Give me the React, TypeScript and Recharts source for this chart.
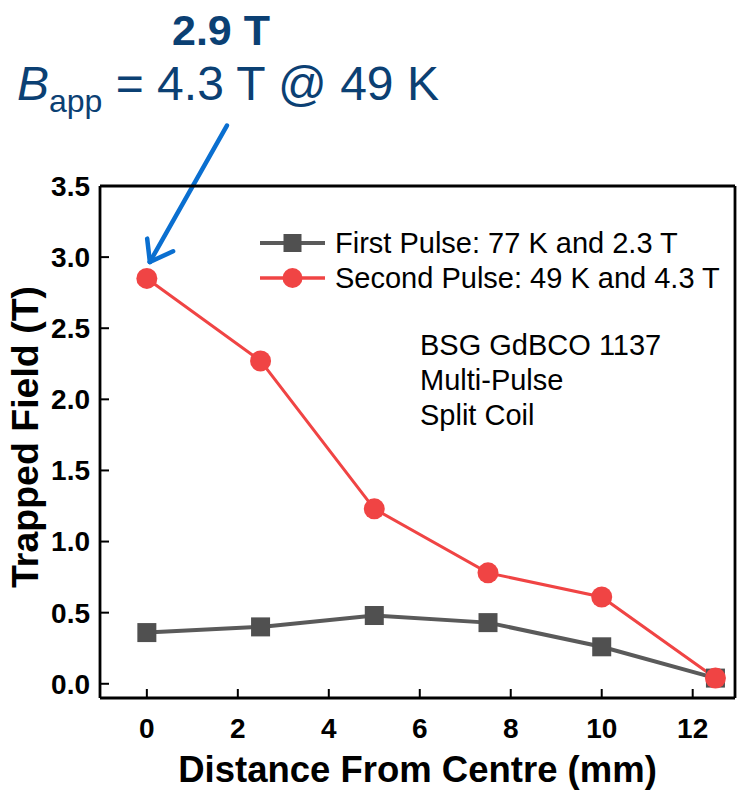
import React from 'react';
import { LineChart, Line, XAxis, YAxis, Legend, ReferenceLine, Label } from 'recharts';

const distance = [0, 2.5, 5, 7.5, 10, 12.5];
const firstPulse = [0.36, 0.4, 0.48, 0.43, 0.26, 0.04];
const secondPulse = [2.85, 2.27, 1.23, 0.78, 0.61, 0.04];

const seriesNames = ['First Pulse: 77 K and 2.3 T', 'Second Pulse: 49 K and 4.3 T'];

const xMajorTicks = [0, 2, 4, 6, 8, 10, 12];
const xMinorTicks = [1, 3, 5, 7, 9, 11];
const yMajorTicks = [0, 0.5, 1, 1.5, 2, 2.5, 3, 3.5];
const yMinorTicks = [0.25, 0.75, 1.25, 1.75, 2.25, 2.75, 3.25];

const xDomain = [-1.03, 12.93];
const yDomain = [-0.1, 3.5];

// annotation arrow in data coordinates
const arrowTail = { x: 1.76, y: 3.925 };
const arrowTip = { x: 0.066, y: 2.966 };
const arrowWingA = { x: 0.007, y: 3.13 };
const arrowWingB = { x: 0.577, y: 3.041 };

const data = distance.map((d, i) => ({ d, first: firstPulse[i], second: secondPulse[i] }));

const FONT = '"Liberation Sans", Arial, sans-serif';
const GRAY = '#505050';
const GRAY_LINE = '#5a5a5a';
const RED = '#f04444';
const TITLE_BLUE = '#0b4073';
const ARROW_BLUE = '#0a6fd0';

const SquareDot = (props: any) => {
  const { cx, cy, index } = props;
  if (cx == null || cy == null) return <g key={`sq-${index}`} />;
  return <rect key={`sq-${index}`} x={cx - 9.5} y={cy - 9.5} width={19} height={19} fill={GRAY} />;
};

const CircleDot = (props: any) => {
  const { cx, cy, index } = props;
  if (cx == null || cy == null) return <g key={`ci-${index}`} />;
  return <circle key={`ci-${index}`} cx={cx} cy={cy} r={10.5} fill={RED} />;
};

const LegendContent = (props: any) => {
  const payload = props.payload || [];
  return (
    <svg width={480} height={75} style={{ display: 'block' }}>
      {payload.map((p: any, i: number) => {
        const cy = 21 + i * 35;
        const isFirst = p.dataKey === 'first';
        const color = isFirst ? GRAY_LINE : RED;
        return (
          <g key={i}>
            <line x1={5} x2={70} y1={cy} y2={cy} stroke={color} strokeWidth={isFirst ? 4 : 3.5} />
            {isFirst ? (
              <rect x={37.5 - 9} y={cy - 9} width={18} height={18} fill={GRAY} />
            ) : (
              <circle cx={37.5} cy={cy} r={10} fill={RED} />
            )}
            <text x={80} y={cy + 10} fontSize={29} fontFamily={FONT} fill="#000">
              {p.value}
            </text>
          </g>
        );
      })}
    </svg>
  );
};

const axisLineStyle = { stroke: '#000', strokeWidth: 2.8 };
const tickLineStyle = { stroke: '#000', strokeWidth: 2 };
const tickLabelStyle = { fontSize: 28, fontWeight: 'bold', fill: '#000', fontFamily: FONT };

export default function App() {
  return (
    <div style={{ position: 'absolute', left: 0, top: 0, width: 738, height: 793, background: '#fff' }}>
      <LineChart
        width={738}
        height={793}
        data={data}
        margin={{ top: 184, right: 1, bottom: 93, left: 98 }}
      >
        <XAxis
          xAxisId={0}
          dataKey="d"
          type="number"
          domain={xDomain}
          allowDataOverflow
          ticks={xMajorTicks}
          interval={0}
          height={1}
          tickSize={-9}
          tickMargin={29}
          axisLine={axisLineStyle}
          tickLine={tickLineStyle}
          tick={tickLabelStyle}
          tickFormatter={(v: number) => String(v)}
        >
          <Label
            value="Distance From Centre (mm)"
            position="bottom"
            offset={57}
            style={{ fontSize: 36.5, fontWeight: 'bold', fill: '#000', fontFamily: FONT }}
          />
        </XAxis>
        <XAxis
          xAxisId="xMinor"
          type="number"
          domain={xDomain}
          allowDataOverflow
          ticks={xMinorTicks}
          interval={0}
          height={1}
          tickSize={-5}
          axisLine={false}
          tickLine={tickLineStyle}
          tick={false}
        />
        <XAxis
          xAxisId="xTop"
          orientation="top"
          type="number"
          domain={xDomain}
          allowDataOverflow
          ticks={xMajorTicks}
          interval={0}
          height={1}
          tickSize={-9}
          axisLine={axisLineStyle}
          tickLine={tickLineStyle}
          tick={false}
        />
        <XAxis
          xAxisId="xTopMinor"
          orientation="top"
          type="number"
          domain={xDomain}
          allowDataOverflow
          ticks={xMinorTicks}
          interval={0}
          height={1}
          tickSize={-5}
          axisLine={false}
          tickLine={tickLineStyle}
          tick={false}
        />
        <YAxis
          yAxisId={0}
          type="number"
          domain={yDomain}
          allowDataOverflow
          ticks={yMajorTicks}
          interval={0}
          width={1}
          tickSize={-9}
          tickMargin={19}
          axisLine={axisLineStyle}
          tickLine={tickLineStyle}
          tick={tickLabelStyle}
          tickFormatter={(v: number) => v.toFixed(1)}
        />
        <YAxis
          yAxisId="yMinor"
          type="number"
          domain={yDomain}
          allowDataOverflow
          ticks={yMinorTicks}
          interval={0}
          width={1}
          tickSize={-5}
          axisLine={false}
          tickLine={tickLineStyle}
          tick={false}
        />
        <YAxis
          yAxisId="yRight"
          orientation="right"
          type="number"
          domain={yDomain}
          allowDataOverflow
          ticks={yMajorTicks}
          interval={0}
          width={1}
          tickSize={-9}
          axisLine={axisLineStyle}
          tickLine={tickLineStyle}
          tick={false}
        />
        <YAxis
          yAxisId="yRightMinor"
          orientation="right"
          type="number"
          domain={yDomain}
          allowDataOverflow
          ticks={yMinorTicks}
          interval={0}
          width={1}
          tickSize={-5}
          axisLine={false}
          tickLine={tickLineStyle}
          tick={false}
        />
        <Line
          dataKey="first"
          name={seriesNames[0]}
          stroke={GRAY_LINE}
          strokeWidth={4}
          dot={SquareDot}
          activeDot={false}
          isAnimationActive={false}
          type="linear"
        />
        <Line
          dataKey="second"
          name={seriesNames[1]}
          stroke={RED}
          strokeWidth={3}
          dot={CircleDot}
          activeDot={false}
          isAnimationActive={false}
          type="linear"
        />
        <ReferenceLine
          segment={[arrowTail, arrowTip]}
          ifOverflow="visible"
          stroke={ARROW_BLUE}
          strokeWidth={4.5}
          strokeLinecap="round"
        />
        <ReferenceLine
          segment={[arrowWingA, arrowTip]}
          ifOverflow="visible"
          stroke={ARROW_BLUE}
          strokeWidth={4.5}
          strokeLinecap="round"
        />
        <ReferenceLine
          segment={[arrowWingB, arrowTip]}
          ifOverflow="visible"
          stroke={ARROW_BLUE}
          strokeWidth={4.5}
          strokeLinecap="round"
        />
        <Legend
          layout="vertical"
          align="center"
          verticalAlign="middle"
          wrapperStyle={{ left: 255, top: 222, width: 480 }}
          content={LegendContent}
        />
      </LineChart>
      <svg
        width={738}
        height={793}
        style={{ position: 'absolute', left: 0, top: 0, pointerEvents: 'none' }}
      >
        <text x={221} y={45} textAnchor="middle" fontSize={43} fontWeight="bold" fontFamily={FONT} fill={TITLE_BLUE}>
          2.9 T
        </text>
        <text x={17} y={100} fontSize={48} fontFamily={FONT} fill={TITLE_BLUE}>
          <tspan fontStyle="italic">B</tspan>
          <tspan fontSize={32} dy={12}>app</tspan>
          <tspan dy={-12}> = 4.3 T @ 49 K</tspan>
        </text>
        <text
          transform="translate(38,437) rotate(-90)"
          textAnchor="middle"
          fontSize={37.5}
          fontWeight="bold"
          fontFamily={FONT}
          fill="#000"
        >
          Trapped Field (T)
        </text>
        <g fontSize={29} fontFamily={FONT} fill="#000">
          <text x={420} y={355}>BSG GdBCO 1137</text>
          <text x={420} y={390}>Multi-Pulse</text>
          <text x={420} y={425}>Split Coil</text>
        </g>
      </svg>
    </div>
  );
}
